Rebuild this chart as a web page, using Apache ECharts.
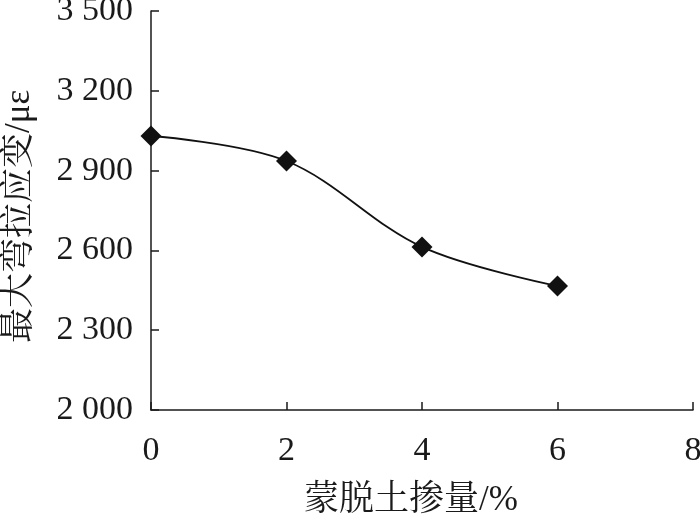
<!DOCTYPE html>
<html><head><meta charset="utf-8">
<script src="https://cdn.jsdelivr.net/npm/echarts@6/dist/echarts.min.js"></script>
<style>html,body{margin:0;padding:0;background:#fff}#c{width:700px;height:517px}</style>
</head><body><div id="c"></div>
<script>
var xValues = [0, 2, 4, 6];
var strainValues = [3030, 2936, 2613, 2466];
var xName = '蒙脱土掺量/%';
var yName = '最大弯拉应变/με';

var font = '"Liberation Serif","Noto Serif CJK SC","Noto Sans CJK SC",serif';
function fmt(v){ var s = String(v); return s.length > 3 ? s.slice(0, s.length-3) + ' ' + s.slice(-3) : s; }
var chart = echarts.init(document.getElementById('c'));
chart.setOption({
  backgroundColor: '#fff',
  animation: false,
  grid: {left: 151, right: 7, top: 11, bottom: 107, outerBoundsMode: 'none', containLabel: false},
  xAxis: {
    type: 'value', min: 0, max: 8, interval: 2,
    name: xName, nameLocation: 'middle', nameGap: 73,
    nameTextStyle: {fontFamily: font, fontSize: 35, color: '#1a1a1a', padding: [0, 22, 0, 0]},
    axisLine: {lineStyle: {color: '#1a1a1a', width: 1.5}},
    axisTick: {inside: true, length: 8, lineStyle: {color: '#1a1a1a', width: 1.5}},
    axisLabel: {fontFamily: font, fontSize: 34, color: '#1a1a1a', margin: 24},
    splitLine: {show: false}
  },
  yAxis: {
    type: 'value', min: 2000, max: 3500, interval: 300,
    name: yName, nameLocation: 'middle', nameGap: 114, nameRotate: 90,
    nameTextStyle: {fontFamily: font, fontSize: 35, color: '#1a1a1a', padding: [0, 12, 0, 0]},
    axisLine: {show: true, lineStyle: {color: '#1a1a1a', width: 1.5}},
    axisTick: {show: true, inside: true, length: 8, lineStyle: {color: '#1a1a1a', width: 1.5}},
    axisLabel: {fontFamily: font, fontSize: 34, color: '#1a1a1a', margin: 18, formatter: fmt, padding: [5, 0, 0, 0]},
    splitLine: {show: false}
  },
  series: [{
    type: 'line', smooth: 0.35,
    data: xValues.map(function(x, i){ return [x, strainValues[i]]; }),
    symbol: 'diamond', symbolSize: 21,
    itemStyle: {color: '#111'},
    lineStyle: {color: '#111', width: 1.8}
  }]
});
</script></body></html>
